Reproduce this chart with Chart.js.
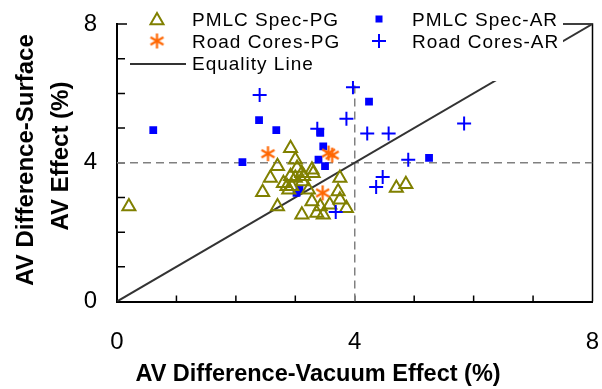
<!DOCTYPE html>
<html><head><meta charset="utf-8">
<script src="https://cdn.jsdelivr.net/npm/chart.js@4.4.0/dist/chart.umd.min.js"></script>
<style>html,body{margin:0;padding:0;background:#fff;overflow:hidden}#wrap{width:602px;height:389px;position:relative}</style>
</head><body><div id="wrap"><canvas id="c" width="602" height="389"></canvas></div>
<script>
// ---- data ----
const axisMin = 0, axisMax = 8;
const tickStep = 1;
const tickLabels = ['0', '4', '8'];
const refValue = 4;

const pmlcPgX = [0.20, 2.45, 2.58, 2.70, 2.70, 2.80, 2.92, 2.92, 3.00, 3.03, 3.00, 2.94, 2.86, 2.89, 3.11, 3.14, 3.11, 3.12, 3.28, 3.30, 3.22, 3.28, 3.42, 3.58, 3.47, 3.36, 3.75, 3.72, 3.75, 3.86, 4.70, 4.86];
const pmlcPgY = [2.74, 3.15, 3.56, 3.90, 2.74, 3.41, 4.42, 3.61, 4.09, 3.85, 3.56, 3.32, 3.32, 3.22, 2.50, 3.61, 3.70, 3.46, 3.80, 3.70, 3.22, 2.88, 2.74, 2.79, 2.50, 2.55, 3.56, 3.17, 2.93, 2.69, 3.27, 3.38];

const pmlcArX = [0.61, 2.11, 2.39, 2.68, 3.02, 3.07, 3.42, 3.47, 3.39, 3.50, 4.24, 5.25];
const pmlcArY = [4.94, 4.02, 5.23, 4.94, 3.13, 3.24, 4.86, 4.47, 4.09, 3.90, 5.76, 4.14];

const coresPgX = [2.54, 3.56, 3.62, 3.46];
const coresPgY = [4.26, 4.28, 4.22, 3.13];

const coresArX = [2.40, 3.37, 3.86, 3.97, 4.21, 4.57, 5.84, 4.90, 4.47, 4.36, 3.68];
const coresArY = [5.95, 4.98, 5.27, 6.18, 4.84, 4.84, 5.13, 4.09, 3.59, 3.30, 2.58];

const equalityX = [0, 8];
const equalityY = [0, 8];

const seriesNames = ['PMLC Spec-PG', 'PMLC Spec-AR', 'Road Cores-PG', 'Road Cores-AR', 'Equality Line'];
const xTitle = 'AV Difference-Vacuum Effect (%)';
const yTitle = ['AV Difference-Surface', 'AV Effect (%)'];

// ---- helpers ----
const pts = (xs, ys) => xs.map((x, i) => ({x, y: ys[i]}));
const FONT = '"Liberation Sans", Arial, sans-serif';
const OLIVE = '#808000', BLUE = '#0000FF', ORANGE = '#FF6600';

function asteriskCanvas(size, color) {
  const c = document.createElement('canvas');
  c.width = size; c.height = size;
  const g = c.getContext('2d');
  g.strokeStyle = color; g.lineWidth = 2.2;
  const r = size / 2 - 1, cx = size / 2, cy = size / 2;
  for (let k = 0; k < 3; k++) {
    const a = Math.PI / 2 + k * Math.PI / 3;
    g.beginPath();
    g.moveTo(cx + Math.cos(a) * r, cy + Math.sin(a) * r);
    g.lineTo(cx - Math.cos(a) * r, cy - Math.sin(a) * r);
    g.stroke();
  }
  return c;
}
const asterisk = asteriskCanvas(17, ORANGE);

function drawMarker(ctx, kind, x, y) {
  ctx.save();
  if (kind === 'tri') {
    const r = 7.5;
    ctx.strokeStyle = OLIVE; ctx.lineWidth = 2;
    ctx.beginPath();
    ctx.moveTo(x, y - r);
    ctx.lineTo(x + r * Math.sin(2 * Math.PI / 3), y - r * Math.cos(2 * Math.PI / 3));
    ctx.lineTo(x + r * Math.sin(4 * Math.PI / 3), y - r * Math.cos(4 * Math.PI / 3));
    ctx.closePath(); ctx.stroke();
  } else if (kind === 'sq') {
    ctx.fillStyle = BLUE; ctx.fillRect(x - 3.5, y - 3.5, 7, 7);
  } else if (kind === 'ast') {
    ctx.drawImage(asterisk, x - 8.5, y - 8.5);
  } else if (kind === 'plus') {
    ctx.strokeStyle = BLUE; ctx.lineWidth = 2;
    ctx.beginPath(); ctx.moveTo(x - 7, y); ctx.lineTo(x + 7, y); ctx.moveTo(x, y - 7); ctx.lineTo(x, y + 7); ctx.stroke();
  }
  ctx.restore();
}

const deco = {
  id: 'deco',
  beforeDatasetsDraw(chart) {
    const {ctx, chartArea: a, scales: {x, y}} = chart;
    ctx.save();
    ctx.strokeStyle = '#000';
    ctx.lineWidth = 1.5;
    ctx.beginPath();
    for (let v = axisMin + tickStep; v < axisMax; v += tickStep) {
      const px = x.getPixelForValue(v);
      ctx.moveTo(px, a.bottom); ctx.lineTo(px, a.bottom - 6);
      const py = y.getPixelForValue(v);
      ctx.moveTo(a.left, py); ctx.lineTo(a.left + 8, py);
    }
    ctx.stroke();
    ctx.beginPath();
    ctx.moveTo(a.left, a.top); ctx.lineTo(a.right, a.top); ctx.lineTo(a.right, a.bottom);
    ctx.stroke();
    ctx.restore();
  },
  afterDatasetsDraw(chart) {
    const ctx = chart.ctx;
    ctx.save();
    ctx.fillStyle = '#fff';
    ctx.fillRect(127, 0, 436, 81);
    ctx.fillStyle = '#000';
    ctx.font = '19px ' + FONT;
    ctx.textBaseline = 'alphabetic';
    ctx.textAlign = 'left';
    try { ctx.letterSpacing = '1px'; } catch (e) {}
    const c1 = 157, c2 = 379, t1 = 192, t2 = 412;
    const rows = [19, 41, 63];
    const base = [25.5, 47.5, 70];
    drawMarker(ctx, 'tri', c1, rows[0] + 1.5);
    ctx.fillText(seriesNames[0], t1, base[0]);
    drawMarker(ctx, 'sq', c2, rows[0]);
    ctx.fillText(seriesNames[1], t2, base[0]);
    drawMarker(ctx, 'ast', c1, rows[1]);
    ctx.fillText(seriesNames[2], t1, base[1]);
    drawMarker(ctx, 'plus', c2, rows[1]);
    ctx.fillText(seriesNames[3], t2, base[1]);
    ctx.strokeStyle = '#333'; ctx.lineWidth = 2;
    ctx.beginPath(); ctx.moveTo(130, rows[2] + 1); ctx.lineTo(186, rows[2] + 1); ctx.stroke();
    ctx.fillText(seriesNames[4], t1, base[2]);
    ctx.restore();
  },
  afterDraw(chart) {
    const ctx = chart.ctx;
    ctx.save();
    ctx.fillStyle = '#000';
    ctx.font = 'bold 23.5px ' + FONT;
    ctx.textAlign = 'center';
    ctx.textBaseline = 'alphabetic';
    ctx.fillText(xTitle, 318, 381);
    ctx.font = 'bold 24px ' + FONT;
    ctx.save(); ctx.translate(33, 160); ctx.rotate(-Math.PI / 2); ctx.fillText(yTitle[0], 0, 0); ctx.restore();
    ctx.save(); ctx.translate(68, 156); ctx.rotate(-Math.PI / 2); ctx.fillText(yTitle[1], 0, 0); ctx.restore();
    ctx.restore();
  }
};

const tickCb = v => tickLabels.includes(String(v)) ? String(v) : '';
const noPad = s => { s.paddingLeft = 0; s.paddingRight = 0; s.paddingTop = 0; s.paddingBottom = 0; };

new Chart(document.getElementById('c'), {
  type: 'scatter',
  data: {
    datasets: [
      {label: seriesNames[1], data: pts(pmlcArX, pmlcArY), pointStyle: 'rect', radius: 5.5, backgroundColor: BLUE, borderColor: BLUE, borderWidth: 0, order: 4},
      {label: seriesNames[0], data: pts(pmlcPgX, pmlcPgY), pointStyle: 'triangle', radius: 7.5, backgroundColor: 'rgba(0,0,0,0)', borderColor: OLIVE, borderWidth: 2, order: 3},
      {label: seriesNames[2], data: pts(coresPgX, coresPgY), pointStyle: asterisk, radius: 8, backgroundColor: ORANGE, borderColor: ORANGE, order: 2},
      {label: seriesNames[3], data: pts(coresArX, coresArY), pointStyle: 'cross', radius: 7, backgroundColor: BLUE, borderColor: BLUE, borderWidth: 2, order: 1},
      {type: 'line', label: seriesNames[4], data: pts(equalityX, equalityY), borderColor: '#333', borderWidth: 2, pointRadius: 0, fill: false, order: 6},
      {type: 'line', label: 'refV', data: pts([refValue, refValue], [axisMin, axisMax]), borderColor: '#808080', borderWidth: 1.5, borderDash: [8, 5], pointRadius: 0, fill: false, order: 7},
      {type: 'line', label: 'refH', data: pts([axisMin, axisMax], [refValue, refValue]), borderColor: '#808080', borderWidth: 1.5, borderDash: [8, 5], pointRadius: 0, fill: false, order: 7}
    ]
  },
  options: {
    responsive: false,
    animation: false,
    devicePixelRatio: 1,
    layout: {padding: {top: 24, right: 6, left: 0, bottom: 0}},
    plugins: {legend: {display: false}, tooltip: {enabled: false}},
    scales: {
      x: {
        type: 'linear', min: axisMin, max: axisMax,
        grid: {display: false, drawTicks: false},
        border: {display: true, color: '#000', width: 2},
        ticks: {stepSize: tickStep, autoSkip: false, maxRotation: 0, padding: 26, color: '#000', font: {family: FONT, size: 24}, callback: tickCb},
        afterFit: s => { s.height = 87.5; noPad(s); }
      },
      y: {
        type: 'linear', min: axisMin, max: axisMax,
        grid: {display: false, drawTicks: false},
        border: {display: true, color: '#000', width: 2},
        ticks: {stepSize: tickStep, autoSkip: false, padding: 20, color: '#000', font: {family: FONT, size: 24}, callback: tickCb},
        afterFit: s => { s.width = 117; noPad(s); }
      }
    }
  },
  plugins: [deco]
});
</script></body></html>
